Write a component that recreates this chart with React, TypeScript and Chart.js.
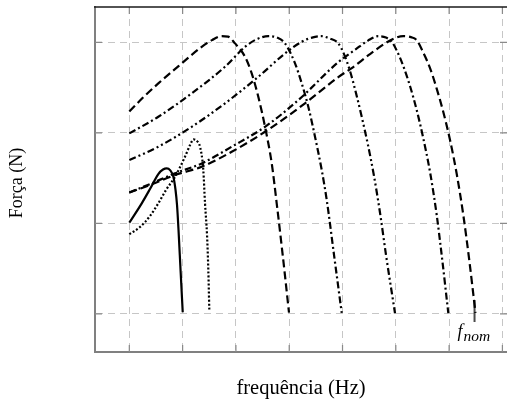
import { useEffect, useRef } from "react";
import { Chart, registerables } from "chart.js";

Chart.register(...registerables);

// ---- data (axis units: vertical grid lines at 1..8, horizontal at 1..4) ----
const xGridTicks = [1, 2, 3, 4, 5, 6, 7, 8];
const yGridTicks = [1, 2, 3, 4];

const solidX = [1.0, 1.233, 1.388, 1.544, 1.632, 1.702, 1.764, 1.826, 1.867, 1.895, 1.923, 1.961, 2.002];
const solidY = [2.008, 2.222, 2.38, 2.545, 2.595, 2.608, 2.589, 2.515, 2.369, 2.203, 1.927, 1.486, 1.019];

const dottedX = [1.0, 1.201, 1.388, 1.544, 1.688, 1.857, 2.044, 2.139, 2.204, 2.27, 2.326, 2.388, 2.42, 2.458, 2.482, 2.501];
const dottedY = [1.88, 1.96, 2.082, 2.222, 2.369, 2.515, 2.736, 2.865, 2.928, 2.909, 2.847, 2.589, 2.222, 1.872, 1.486, 1.033];

const dashedAX = [1.0, 1.257, 1.544, 1.983, 2.358, 2.552, 2.734, 2.852, 2.983, 3.171, 3.296, 3.42, 3.546, 3.672, 3.765, 3.884, 3.996];
const dashedAY = [3.235, 3.39, 3.546, 3.767, 3.95, 4.024, 4.068, 4.063, 3.988, 3.84, 3.657, 3.398, 3.067, 2.663, 2.222, 1.618, 1.014];

const dashDotBX = [1.0, 1.544, 2.171, 2.795, 3.171, 3.377, 3.608, 3.771, 3.921, 4.109, 4.235, 4.358, 4.484, 4.61, 4.704, 4.841, 4.985];
const dashDotBY = [2.994, 3.178, 3.436, 3.73, 3.95, 4.03, 4.068, 4.052, 3.988, 3.767, 3.546, 3.288, 2.957, 2.589, 2.258, 1.651, 1.011];

const dashDotDotX = [1.0, 1.544, 2.171, 2.795, 3.42, 3.921, 4.235, 4.428, 4.597, 4.765, 4.921, 5.028, 5.141, 5.253, 5.366, 5.478, 5.591, 5.704, 5.816, 5.985];
const dashDotDotY = [2.7, 2.847, 3.067, 3.326, 3.619, 3.877, 4.006, 4.052, 4.068, 4.041, 3.988, 3.87, 3.682, 3.439, 3.163, 2.865, 2.523, 2.115, 1.651, 1.008];

const dashDotDX = [1.0, 1.388, 1.857, 2.358, 2.921, 3.546, 4.171, 4.921, 5.253, 5.478, 5.672, 5.816, 5.929, 6.022, 6.141, 6.266, 6.392, 6.51, 6.642, 6.767, 6.867, 6.985];
const dashDotDY = [2.341, 2.435, 2.553, 2.663, 2.847, 3.067, 3.362, 3.781, 3.925, 4.019, 4.068, 4.052, 4.002, 3.903, 3.737, 3.517, 3.252, 2.954, 2.567, 2.093, 1.618, 1.008];

const dashedEX = [1.0, 1.388, 1.857, 2.358, 2.921, 3.546, 4.296, 4.921, 5.173, 5.516, 5.891, 6.141, 6.285, 6.392, 6.51, 6.642, 6.764, 6.891, 7.017, 7.143, 7.266, 7.373, 7.495];
const dashedEY = [2.341, 2.424, 2.534, 2.626, 2.791, 3.012, 3.326, 3.616, 3.715, 3.87, 4.019, 4.068, 4.057, 4.024, 3.892, 3.715, 3.494, 3.23, 2.921, 2.545, 2.093, 1.618, 1.011];

const fNomX = [7.477, 7.477];
const fNomY = [1.155, 0.912];

const xTitle = "frequência (Hz)";
const yTitle = "Força (N)";
const fNomMain = "f";
const fNomSub = "nom";

const X_MIN = 0.356;
const X_MAX = 8.086;
const Y_MIN = 0.58;
const Y_MAX = 4.39;

const SERIF = '"Liberation Serif", "Times New Roman", serif';

function pts(xs: number[], ys: number[]) {
  return xs.map((x, i) => ({ x, y: ys[i] }));
}

function curve(xs: number[], ys: number[], dash: number[]) {
  return {
    data: pts(xs, ys),
    borderColor: "#000000",
    borderWidth: 2.2,
    borderDash: dash,
    pointRadius: 0,
    fill: false,
    cubicInterpolationMode: "monotone" as const,
  };
}

const decor = {
  id: "decor",
  beforeDatasetsDraw(chart: any) {
    const { ctx, chartArea: a, scales } = chart;
    const xs = scales.x;
    const ys = scales.y;
    ctx.save();
    ctx.strokeStyle = "#8a8a8a";
    ctx.lineWidth = 1.2;
    ctx.setLineDash([]);
    const L = 7;
    for (const v of xGridTicks) {
      const px = xs.getPixelForValue(v);
      ctx.beginPath();
      ctx.moveTo(px, a.bottom);
      ctx.lineTo(px, a.bottom - L);
      ctx.moveTo(px, a.top);
      ctx.lineTo(px, a.top + L);
      ctx.stroke();
    }
    for (const v of yGridTicks) {
      const py = ys.getPixelForValue(v);
      ctx.beginPath();
      ctx.moveTo(a.left, py);
      ctx.lineTo(a.left + L, py);
      ctx.moveTo(a.right, py);
      ctx.lineTo(a.right - L, py);
      ctx.stroke();
    }
    ctx.strokeStyle = "#1a1a1a";
    ctx.lineWidth = 1.6;
    ctx.beginPath();
    ctx.moveTo(a.left - 1, a.top);
    ctx.lineTo(a.right, a.top);
    ctx.stroke();
    ctx.restore();
  },
  afterDraw(chart: any) {
    const { ctx, chartArea: a, scales } = chart;
    ctx.save();
    ctx.fillStyle = "#000000";
    // x title
    ctx.font = `20.5px ${SERIF}`;
    ctx.textAlign = "center";
    ctx.textBaseline = "middle";
    ctx.fillText(xTitle, (a.left + a.right) / 2, 389);
    // y title
    ctx.font = `18px ${SERIF}`;
    ctx.save();
    ctx.translate(17.5, 183);
    ctx.rotate(-Math.PI / 2);
    ctx.fillText(yTitle, 0, 0);
    ctx.restore();
    // f_nom label
    const fx = scales.x.getPixelForValue(fNomX[0]);
    ctx.textAlign = "left";
    ctx.textBaseline = "alphabetic";
    ctx.font = `italic 18px ${SERIF}`;
    ctx.fillText(fNomMain, fx - 17, 337);
    ctx.font = `italic 15.5px ${SERIF}`;
    ctx.fillText(fNomSub, fx - 11, 341);
    ctx.restore();
  },
};

export default function App() {
  const ref = useRef<HTMLCanvasElement | null>(null);
  useEffect(() => {
    if (!ref.current) return;
    const gridCommon = {
      color: "#c6c6c6",
      lineWidth: 1,
      drawTicks: false,
      tickLength: 0,
    };
    const chart = new Chart(ref.current, {
      type: "line",
      data: {
        datasets: [
          curve(solidX, solidY, []),
          curve(dottedX, dottedY, [2, 2]),
          curve(dashedAX, dashedAY, [8, 4]),
          curve(dashDotBX, dashDotBY, [7, 3, 2, 3]),
          curve(dashDotDotX, dashDotDotY, [7, 3, 2, 3, 2, 3]),
          curve(dashDotDX, dashDotDY, [7, 3, 2, 3]),
          curve(dashedEX, dashedEY, [8, 4]),
          {
            data: pts(fNomX, fNomY),
            borderColor: "#4a4a4a",
            borderWidth: 2,
            pointRadius: 0,
            fill: false,
          },
        ] as any,
      },
      options: {
        animation: false,
        responsive: false,
        devicePixelRatio: 1,
        layout: { padding: { top: 7, left: 0, right: 0, bottom: 0 } },
        plugins: { legend: { display: false }, tooltip: { enabled: false } },
        scales: {
          x: {
            type: "linear",
            min: X_MIN,
            max: X_MAX,
            afterBuildTicks: (s: any) => {
              s.ticks = xGridTicks.map((v) => ({ value: v }));
            },
            afterFit: (s: any) => {
              s.height = 60;
            },
            ticks: { display: false },
            grid: gridCommon,
            border: { display: true, color: "#808080", width: 2, dash: [7, 5] },
          },
          y: {
            type: "linear",
            min: Y_MIN,
            max: Y_MAX,
            afterBuildTicks: (s: any) => {
              s.ticks = yGridTicks.map((v) => ({ value: v }));
            },
            afterFit: (s: any) => {
              s.width = 95;
            },
            ticks: { display: false },
            grid: gridCommon,
            border: { display: true, color: "#808080", width: 2, dash: [7, 5] },
          },
        },
      } as any,
      plugins: [decor],
    });
    return () => chart.destroy();
  }, []);
  return (
    <div style={{ position: "absolute", left: 0, top: 0, width: 507, height: 412, overflow: "hidden", background: "#fff" }}>
      <canvas ref={ref} width={507} height={412} style={{ display: "block" }} />
    </div>
  );
}
